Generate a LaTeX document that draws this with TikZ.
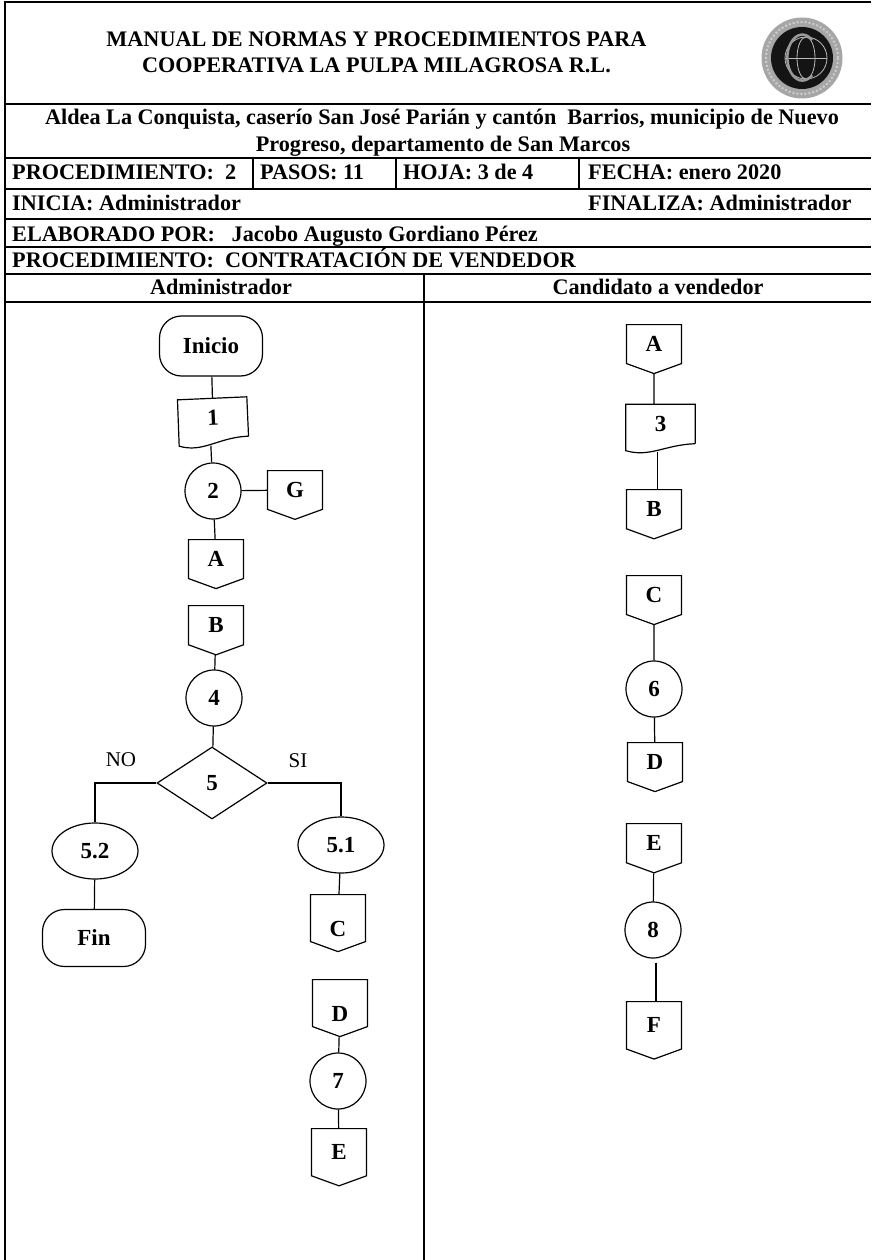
\documentclass[tikz,border=0pt]{standalone}
\usepackage{fontspec}
\setmainfont{Liberation Serif}
\usetikzlibrary{calc,shapes.geometric,shapes.symbols}
\tikzset{
  line/.style={line width=1.2pt,black},
  tabline/.style={line width=1.3pt,black},
  lbl/.style={font=\fontsize{23}{25}\selectfont\bfseries,inner sep=0pt},
  rowtext/.style={font=\fontsize{22.2}{24}\selectfont\bfseries,inner sep=0pt,anchor=base west},
  headtext/.style={rowtext,anchor=base},
  plain/.style={font=\fontsize{21}{24}\selectfont,inner sep=0pt},
  terminal/.style={line,lbl,draw,rectangle,rounded corners=22pt,minimum width=103pt,minimum height=60pt},
  stepcircle/.style={line,lbl,draw,circle,minimum size=56pt},
  stepellipse/.style={line,lbl,draw,ellipse,minimum width=86pt,minimum height=56pt},
  decision/.style={line,lbl,draw,diamond,minimum width=110pt,minimum height=72pt},
  offpage/.style={line,lbl,draw,signal,signal to=south,signal from=nowhere,signal pointer angle=140,minimum width=55pt,minimum height=42pt,anchor=north},
  tallpage/.style={offpage,minimum height=50pt},
  lowtext/.style={text height=37pt},
  docbox/.style={lbl,minimum width=69pt,minimum height=39pt}
}
\newcommand{\docframe}[1]{%
  \draw[line] (#1.south east) -- (#1.north east) -- (#1.north west) -- ($(#1.south west)+(0,7)$)
    .. controls ($(#1.south west)+(24,14)$) and ($(#1.south east)+(-30,1)$) .. (#1.south east);
  \coordinate (#1end) at ($(#1.south)+(-3,8)$);
}
\begin{document}
\begin{tikzpicture}[x=1pt,y=-1pt]
  \useasboundingbox (0,0) rectangle (871,1260);

  % Form frame
  \draw[tabline] (871,2) -- (5,2) -- (5,1260);
  \foreach \y in {104,158,189,219,247,274,302}
    \draw[tabline] (5,\y) -- (871,\y);
  \foreach \x in {253,396,579}
    \draw[tabline] (\x,158) -- (\x,189);
  \draw[tabline] (424,274) -- (424,1260);

  % Form texts
  \node[headtext] (title1) at (376.5,47) {MANUAL DE NORMAS Y PROCEDIMIENTOS PARA};
  \node[headtext] (title2) at (376.5,73) {COOPERATIVA LA PULPA MILAGROSA R.L.};
  \node[headtext] (place1) at (442,125) {Aldea La Conquista, caserío San José Parián y cantón\ \ Barrios, municipio de Nuevo};
  \node[headtext] (place2) at (443,152) {Progreso, departamento de San Marcos};
  \node[rowtext] (proc) at (12,179) {PROCEDIMIENTO:\ \ 2};
  \node[rowtext] (pasos) at (260,179) {PASOS: 11};
  \node[rowtext] (hoja) at (403,179) {HOJA: 3 de 4};
  \node[rowtext] (fecha) at (588,179) {FECHA: enero 2020};
  \node[rowtext] (inicia) at (12,210) {INICIA: Administrador};
  \node[rowtext] (finaliza) at (588,210) {FINALIZA: Administrador};
  \node[rowtext] (elab) at (12,241) {ELABORADO POR:\ \ \ Jacobo Augusto Gordiano Pérez};
  \node[rowtext] (nombre) at (12,267) {PROCEDIMIENTO:\ \ CONTRATACIÓN DE VENDEDOR};
  \node[headtext] (admin) at (221,294) {Administrador};
  \node[headtext] (cand) at (658,294) {Candidato a vendedor};

  % Logo
  \fill[gray!70] (802,58) circle (40.5pt);
  \draw[gray!40,line width=2pt,dash pattern=on 2pt off 2pt] (802,58) circle (36pt);
  \fill[black!92] (802,58) circle (31pt);
  \draw[gray!55,line width=0.8pt] (806,58) circle (21pt);
  \draw[gray!55,line width=0.8pt] (806,58) ellipse (9pt and 21pt);
  \draw[gray!55,line width=0.8pt] (785,58) -- (827,58);
  \draw[gray!80,line width=2.5pt] (812,40) arc (50:310:15pt and 23pt);

  % Administrador
  \node[terminal] (inicio) at (211,346) {Inicio};
  \node[docbox,rotate=2.5] (doc1) at (213,418) {1};
  \docframe{doc1}
  \node[stepcircle] (c2) at (213,491) {2};
  \node[offpage] (g) at (295,470) {G};
  \node[offpage] (a1) at (216,539) {A};
  \node[offpage] (b1) at (216,605) {B};
  \node[stepcircle] (c4) at (214,698) {4};
  \node[decision] (d5) at (212,783) {5};
  \node[plain] (no) at (121,760) {NO};
  \node[plain] (si) at (298,761) {SI};
  \node[stepellipse] (e52) at (95,851) {5.2};
  \node[terminal,minimum height=57pt] (fin) at (94,938) {Fin};
  \node[stepellipse] (e51) at (341,845) {5.1};
  \node[tallpage,lowtext] (c1) at (338,894) {C};
  \node[tallpage,lowtext] (d1) at (340,979) {D};
  \node[stepcircle] (c7) at (338,1081) {7};
  \node[tallpage] (e1) at (339,1128) {E};

  \draw[line] (inicio) -- (doc1);
  \draw[line] (doc1end) -- (c2);
  \draw[line] (c2) -- (g);
  \draw[line] (c2) -- (a1);
  \draw[line] (b1) -- (c4);
  \draw[line] (c4) -- (d5);
  \draw[line] (d5) -| (e52);
  \draw[line] (d5) -| (e51);
  \draw[line] (e52) -- (fin);
  \draw[line] (e51) -- (c1);
  \draw[line] (d1) -- (c7);
  \draw[line] (c7) -- (e1);

  % Candidato a vendedor
  \node[offpage] (a2) at (654,324) {A};
  \node[docbox] (doc3) at (660.5,424) {3};
  \docframe{doc3}
  \node[offpage] (b2) at (654,489) {B};
  \node[offpage] (c2b) at (654,575) {C};
  \node[stepcircle] (c6) at (654,689) {6};
  \node[offpage] (d2) at (655,742) {D};
  \node[offpage] (e2) at (654,823) {E};
  \node[stepcircle] (c8) at (653,930) {8};
  \node[tallpage] (f) at (654,1001) {F};

  \draw[line] (a2) -- (a2 |- doc3.north);
  \draw[line] (doc3end) -- (doc3end |- b2.north);
  \draw[line] (c2b) -- (c6);
  \draw[line] (c6) -- (d2);
  \draw[line] (e2) -- (c8);
  \draw[line] ([xshift=3pt,yshift=-4pt]c8.south) -- ([xshift=2pt]f.north);
\end{tikzpicture}
\end{document}
